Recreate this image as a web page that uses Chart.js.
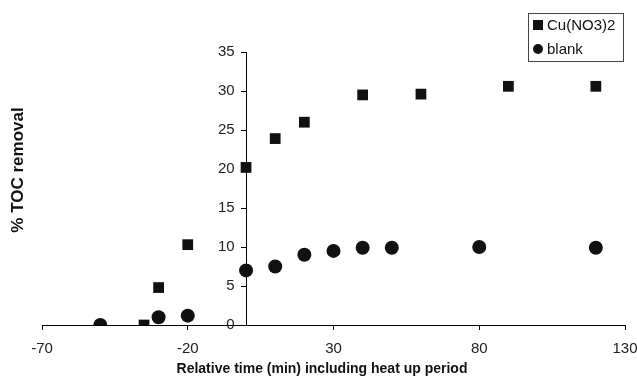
<!DOCTYPE html>
<html>
<head>
<meta charset="utf-8">
<script src="https://cdn.jsdelivr.net/npm/chart.js@4.4.1/dist/chart.umd.min.js"></script>
<style>
  html, body { margin: 0; padding: 0; background: #fff; }
  #wrap { width: 637px; height: 380px; position: relative; }
</style>
</head>
<body>
<div id="wrap"><canvas id="tocChart"></canvas></div>
<script>
// Values
const cuTimes = [-35, -30, -20, 0, 10, 20, 40, 60, 90, 120];
const cuRemoval = [0, 4.8, 10.3, 20.2, 23.9, 26.0, 29.5, 29.6, 30.6, 30.6];
const blankTimes = [-50, -30, -20, 0, 10, 20, 30, 40, 50, 80, 120];
const blankRemoval = [0, 1.0, 1.2, 7.0, 7.5, 9.0, 9.5, 9.9, 9.9, 10.0, 9.9];
const seriesNames = ['Cu(NO3)2', 'blank'];
const xTicks = [-70, -20, 30, 80, 130];
const yTicks = [0, 5, 10, 15, 20, 25, 30, 35];
const xTitle = 'Relative time (min) including heat up period';
const yTitle = '% TOC removal';

const FONT = "'Liberation Sans', Arial, sans-serif";
const INK = '#111';

const toPoints = (xs, ys) => xs.map((x, i) => ({ x: x, y: ys[i] }));

// axis titles + boxed legend, placed like the original figure
const decorations = {
  id: 'decorations',
  afterDraw(chart) {
    const ctx = chart.ctx;
    ctx.save();
    ctx.fillStyle = INK;

    // x title
    ctx.font = 'bold 14px ' + FONT;
    ctx.textAlign = 'center';
    ctx.textBaseline = 'middle';
    ctx.fillText(xTitle, 322, 369);

    // y title
    ctx.save();
    ctx.translate(18, 170);
    ctx.rotate(-Math.PI / 2);
    ctx.font = 'bold 17px ' + FONT;
    ctx.fillText(yTitle, 0, 0);
    ctx.restore();

    // legend box
    ctx.strokeStyle = '#444';
    ctx.lineWidth = 1;
    ctx.strokeRect(528.5, 13.5, 95, 48);
    ctx.font = '15px ' + FONT;
    ctx.textAlign = 'left';
    chart.data.datasets.forEach((d, i) => {
      const y = 25 + i * 24;
      ctx.fillStyle = INK;
      if (d.pointStyle === 'rect') {
        ctx.fillRect(533, y - 5, 10, 10);
      } else {
        ctx.beginPath();
        ctx.arc(538, y, 5, 0, Math.PI * 2);
        ctx.fill();
      }
      ctx.fillText(d.label, 547, y + 1);
    });
    ctx.restore();
  }
};

new Chart(document.getElementById('tocChart'), {
  type: 'scatter',
  data: {
    datasets: [
      {
        label: seriesNames[0],
        data: toPoints(cuTimes, cuRemoval),
        pointStyle: 'rect',
        pointRadius: 7.6,
        backgroundColor: INK,
        borderColor: INK,
        borderWidth: 0
      },
      {
        label: seriesNames[1],
        data: toPoints(blankTimes, blankRemoval),
        pointStyle: 'circle',
        pointRadius: 7,
        backgroundColor: INK,
        borderColor: INK,
        borderWidth: 0
      }
    ]
  },
  options: {
    responsive: true,
    maintainAspectRatio: false,
    animation: false,
    layout: { padding: { left: 42, right: 12, top: 52, bottom: 12 } },
    plugins: {
      legend: { display: false },
      tooltip: { enabled: false }
    },
    scales: {
      x: {
        type: 'linear',
        min: -70,
        max: 130,
        afterBuildTicks: axis => { axis.ticks = xTicks.map(v => ({ value: v })); },
        // ticks.padding also widens the side padding; keep the end labels hanging over
        afterFit: axis => { axis.paddingLeft = 12; axis.paddingRight = 12; },
        grid: { drawOnChartArea: false, drawTicks: true, tickLength: 5, color: '#000' },
        border: { display: true, color: '#000', width: 1 },
        ticks: { font: { family: FONT, size: 15 }, color: '#222', padding: 10, maxRotation: 0 }
      },
      y: {
        type: 'linear',
        position: { x: 0 },
        min: 0,
        max: 35,
        afterBuildTicks: axis => { axis.ticks = yTicks.map(v => ({ value: v })); },
        afterFit: axis => { axis.width = 0; },
        grid: { drawOnChartArea: false, drawTicks: true, tickLength: 5, color: '#000' },
        border: { display: true, color: '#000', width: 1 },
        // labels of an axis placed at x = 0 sit flush on the line, so pad them with spaces
        ticks: {
          font: { family: FONT, size: 15 },
          color: '#222',
          callback: v => v + '  \u2009'
        }
      }
    }
  },
  plugins: [decorations]
});
</script>
</body>
</html>
